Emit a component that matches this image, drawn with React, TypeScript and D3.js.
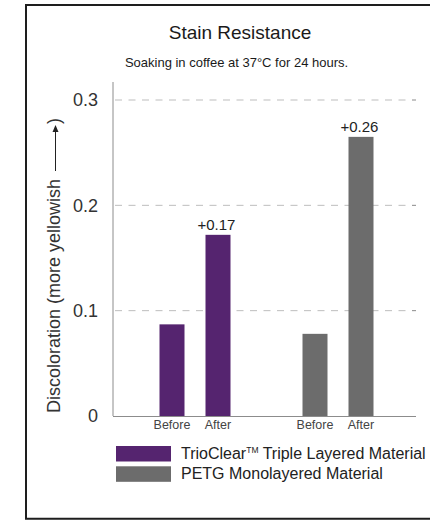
import React from "react";
import * as d3 from "d3";

const groups = ["TrioClear", "PETG"];
const phases = ["Before", "After"];
const trioValues = [0.087, 0.172];
const petgValues = [0.078, 0.265];
const deltaLabels = ["+0.17", "+0.26"];
const yTicks = [0, 0.1, 0.2, 0.3];
const legendLabels = ["TrioClear", "PETG Monolayered Material"];
const colors = ["#55246f", "#6c6c6c"];

const FONT = "'Liberation Sans', Arial, Helvetica, sans-serif";

export default function App() {
  const W = 430, H = 520;
  const axisLeft = 113, axisRight = 416;
  const y = d3.scaleLinear().domain([0, 0.3]).range([416, 100]);
  const x0 = d3.scalePoint<string>().domain(groups).range([195, 338]);
  const x1 = d3.scaleBand<string>().domain(phases).range([-35.5, 35.5]).paddingInner(0.4565).paddingOuter(0);
  const series = [trioValues, petgValues];

  return (
    <div style={{ position: "fixed", left: 0, top: 0, width: W, height: H, overflow: "hidden", background: "#fff" }}>
      <svg width={W} height={H} style={{ display: "block" }} fontFamily={FONT}>
        <path d={`M${W},5 H26 V518.7 H${W}`} fill="none" stroke="#1e1e1e" strokeWidth={2} />
        <text x={240} y={39} textAnchor="middle" fontSize={19} fill="#1a1a1a">Stain Resistance</text>
        <text x={236.5} y={66.5} textAnchor="middle" fontSize={13} fill="#1a1a1a">Soaking in coffee at 37°C for 24 hours.</text>

        {yTicks.filter((t) => t > 0).map((t) => (
          <g key={"g" + t}>
            <line x1={axisLeft + 2} x2={412} y1={y(t)} y2={y(t)} stroke="#bdbdbd" strokeDasharray="7,6.5" />
            <line x1={412} x2={416} y1={y(t)} y2={y(t)} stroke="#8a8a8a" />
          </g>
        ))}
        {yTicks.map((t) => (
          <text key={"t" + t} x={98} y={y(t)} dy="0.35em" textAnchor="end" fontSize={18} fill="#333">
            {t === 0 ? "0" : d3.format(".1f")(t)}
          </text>
        ))}
        <line x1={axisLeft} x2={axisLeft} y1={82} y2={y(0)} stroke="#8c8c8c" />
        <line x1={axisLeft} x2={axisRight} y1={y(0) + 0.5} y2={y(0) + 0.5} stroke="#8c8c8c" />

        {groups.map((g, gi) =>
          phases.map((p, pi) => {
            const bx = (x0(g) as number) + (x1(p) as number);
            const v = series[gi][pi];
            return (
              <g key={g + p}>
                <rect x={bx} y={y(v)} width={x1.bandwidth()} height={y(0) - y(v)} fill={colors[gi]} />
                <text x={bx + x1.bandwidth() / 2} y={429} textAnchor="middle" fontSize={12.5} fill="#444">{p}</text>
                {pi === 1 && (
                  <text x={bx + x1.bandwidth() / 2 - 1.5} y={y(v) - 5} textAnchor="middle" fontSize={15} fill="#222">{deltaLabels[gi]}</text>
                )}
              </g>
            );
          })
        )}

        <g transform="translate(60,413) rotate(-90)">
          <text x={0} y={0} fontSize={18} fill="#333">Discoloration (more yellowish</text>
          <line x1={242} x2={284} y1={-4.5} y2={-4.5} stroke="#222" strokeWidth={1} />
          <path d="M288,-4.5 L281,-7.5 L281,-1.5 Z" fill="#222" />
          <text x={289} y={0} fontSize={18} fill="#333">)</text>
        </g>

        {legendLabels.map((l, i) => (
          <g key={l}>
            <rect x={116} y={446 + i * 20.3} width={55} height={15.5} fill={colors[i]} />
            <text x={181} y={459 + i * 20.3} fontSize={16} fill="#222">
              {i === 0 ? (
                <>
                  {l}
                  <tspan fontSize={8.5} dy={-6}>TM</tspan>
                  <tspan dy={6}> Triple Layered Material</tspan>
                </>
              ) : l}
            </text>
          </g>
        ))}
      </svg>
    </div>
  );
}
